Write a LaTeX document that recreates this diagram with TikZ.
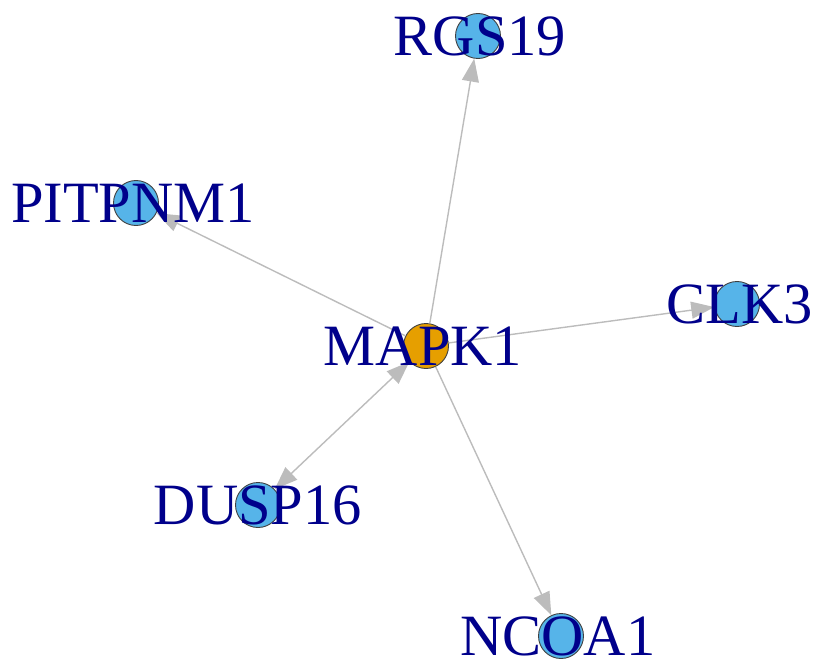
\documentclass[tikz,border=0pt]{standalone}
\usepackage{fontspec}
\setmainfont{Liberation Serif}
\usetikzlibrary{arrows.meta}
\definecolor{edgegray}{RGB}{188,188,188}
\definecolor{labelblue}{RGB}{0,0,139}
\definecolor{hubfill}{RGB}{230,159,0}
\definecolor{leaffill}{RGB}{86,180,233}
\begin{document}
\begin{tikzpicture}[x=1pt,y=-1pt,
  vert/.style={circle,draw=black!75,line width=0.9pt,minimum size=45pt,inner sep=0pt},
  hub/.style={vert,fill=hubfill},
  leaf/.style={vert,fill=leaffill},
  lbl/.style={text=labelblue,font=\fontsize{58.5}{62}\selectfont,inner sep=0pt,anchor=center},
  edge/.style={draw=edgegray,line width=1.4pt,-{Triangle[length=23pt,width=17pt]}},
  bedge/.style={draw=edgegray,line width=1.4pt,{Triangle[length=23pt,width=17pt]}-{Triangle[length=23pt,width=17pt]}}]
\useasboundingbox (0,0) rectangle (815,669);
\node[hub]  (mapk1) at (426,346) {};
\node[leaf] (rgs19) at (478,36) {};
\node[leaf] (pitpnm1) at (136,203) {};
\node[leaf] (clk3) at (737,304) {};
\node[leaf] (dusp16) at (258,505) {};
\node[leaf] (ncoa1) at (561,636) {};
\draw[edge] (mapk1) -- (rgs19);
\draw[edge] (mapk1) -- (pitpnm1);
\draw[edge] (mapk1) -- (clk3);
\draw[bedge] (mapk1) -- (dusp16);
\draw[edge] (mapk1) -- (ncoa1);
\node[lbl] (lmapk1) at (423,346) {MAPK1};
\node[lbl] (lrgs19) at (480,36) {RGS19};
\node[lbl] (lpitpnm1) at (133,203) {PITPNM1};
\node[lbl] (lclk3) at (740,304) {CLK3};
\node[lbl] (ldusp16) at (dusp16.center) {DUSP16};
\node[lbl] (lncoa1) at (558,636) {NCOA1};
\end{tikzpicture}
\end{document}
